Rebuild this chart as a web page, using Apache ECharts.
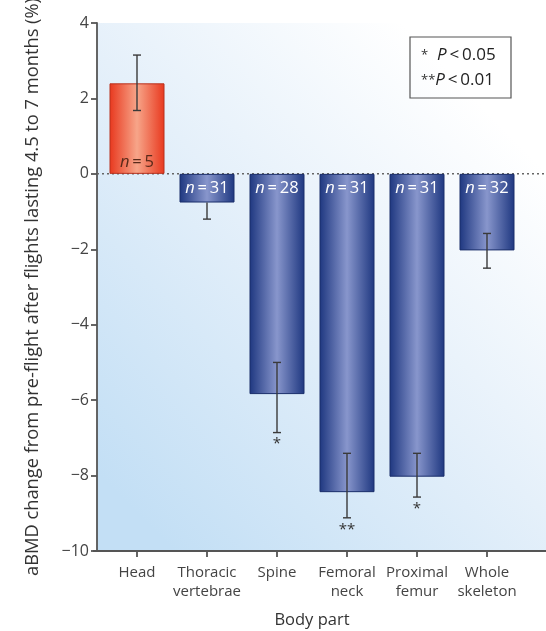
<!DOCTYPE html>
<html><head><meta charset="utf-8">
<script src="https://cdn.jsdelivr.net/npm/echarts@6/dist/echarts.min.js"></script>
<style>html,body{margin:0;padding:0;background:#fff}#c{width:546px;height:631px}</style>
</head><body><div id="c"></div>
<script>
var categories = ['Head', 'Thoracic\nvertebrae', 'Spine', 'Femoral\nneck', 'Proximal\nfemur', 'Whole\nskeleton'];
var values = [2.4, -0.76, -5.84, -8.44, -8.03, -2.03];
var errUpper = [3.15, null, -5.0, -7.41, -7.41, -1.58];
var errLower = [1.68, -1.2, -6.86, -9.12, -8.57, -2.5];
var sampleSizes = [5, 31, 28, 31, 31, 32];
var stars = ['', '', '*', '**', '*', ''];
var yTicks = [-10, -8, -6, -4, -2, 0, 2, 4];

var FONT = '"Open Sans", "Noto Sans", sans-serif';
function blueGrad() {
  return new echarts.graphic.LinearGradient(0, 0, 1, 0, [
    {offset: 0, color: '#1e3780'}, {offset: 0.5, color: '#8896cc'}, {offset: 1, color: '#1e3780'}]);
}
function redGrad() {
  return new echarts.graphic.LinearGradient(0, 0, 1, 0, [
    {offset: 0, color: '#e8381e'}, {offset: 0.5, color: '#f7a589'}, {offset: 1, color: '#e8381e'}]);
}
var barData = values.map(function (v, i) {
  var pos = v >= 0;
  var col = pos ? '#5a2a1a' : '#ffffff';
  return {
    value: v,
    itemStyle: {color: pos ? redGrad() : blueGrad(), borderColor: pos ? '#b8301c' : '#1a2e6a', borderWidth: 1},
    label: {
      show: true, position: pos ? 'insideBottom' : 'insideTop', distance: pos ? 3 : 6,
      color: col, fontSize: 16.5, fontFamily: FONT,
      formatter: '{i|n}\u2009=\u2009' + sampleSizes[i],
      rich: {i: {fontStyle: 'italic', fontSize: 16.5, fontFamily: FONT, color: col}}
    }
  };
});
var errData = categories.map(function (c, i) { return [i, errUpper[i], errLower[i]]; });

var chart = echarts.init(document.getElementById('c'), null, {renderer: 'canvas'});
var option = {
  animation: false,
  backgroundColor: '#ffffff',
  grid: {left: 102, top: 23, width: 420, bottom: 80, containLabel: false, outerBoundsMode: 'none'},
  xAxis: {
    type: 'category', data: categories,
    name: 'Body part', nameLocation: 'middle', nameGap: 61,
    nameTextStyle: {fontSize: 16.5, color: '#333', fontFamily: FONT},
    axisLine: {show: false, onZero: false},
    axisTick: {show: true, alignWithLabel: true, length: 6, lineStyle: {color: '#555', width: 1.8}},
    axisLabel: {fontSize: 15, color: '#444', fontFamily: FONT, lineHeight: 19, margin: 12, interval: 0},
    splitLine: {show: false}
  },
  yAxis: {
    type: 'value', min: -10, max: 4, interval: 2, offset: 5,
    name: 'aBMD change from pre-flight after flights lasting 4.5 to 7 months (%)',
    nameLocation: 'middle', nameGap: 55,
    nameTextStyle: {fontSize: 18.3, color: '#333', fontFamily: FONT},
    axisLine: {show: true, lineStyle: {color: '#555', width: 1.8}},
    axisTick: {show: true, length: 6, lineStyle: {color: '#555', width: 1.8}},
    axisLabel: {fontSize: 16, color: '#444', fontFamily: FONT, margin: 8,
      formatter: function (v) { return yTicks.indexOf(v) >= 0 ? String(v).replace('-', '\u2212') : ''; }},
    splitLine: {show: false}
  },
  series: [
    {type: 'bar', data: barData, barWidth: 55, z: 3},
    {
      type: 'custom', z: 5, data: errData,
      renderItem: function (params, api) {
        var x = api.coord([api.value(0), 0])[0];
        var children = [];
        var hi = api.value(1), lo = api.value(2), val = values[params.dataIndex];
        var noHi = (hi === null || isNaN(hi));
        var top = noHi ? api.coord([0, val])[1] : api.coord([0, hi])[1];
        var bot = api.coord([0, lo])[1];
        var st = {stroke: '#3a3a3a', lineWidth: 1.4};
        children.push({type: 'line', shape: {x1: x, y1: top, x2: x, y2: bot}, style: st});
        if (!noHi) children.push({type: 'line', shape: {x1: x - 4, y1: top, x2: x + 4, y2: top}, style: st});
        children.push({type: 'line', shape: {x1: x - 4, y1: bot, x2: x + 4, y2: bot}, style: st});
        var s = stars[params.dataIndex];
        if (s) children.push({type: 'text', x: x, y: bot + 4,
          style: {text: s, fill: '#333', font: '15px ' + FONT, align: 'center', verticalAlign: 'top'}});
        return {type: 'group', children: children};
      }
    }
  ]
};
chart.setOption(option);

// background panel, baseline and zero line, positioned through the axis scales
var pTop = chart.convertToPixel({gridIndex: 0}, [0, 4]);
var p0 = chart.convertToPixel({gridIndex: 0}, [0, 0]);
var pBot = chart.convertToPixel({gridIndex: 0}, [0, -10]);
var yZero = p0[1], yTop = pTop[1], yBot = pBot[1];
var xLeft = 97, xRight = 546;
var legRich = {s: {fontSize: 13, fill: '#333', fontFamily: FONT}, p: {fontStyle: 'italic', fontSize: 17, fontFamily: FONT, fill: '#222'}};
chart.setOption({
  graphic: [
    {type: 'rect', z: -10, silent: true, shape: {x: xLeft, y: yTop, width: xRight - xLeft, height: yBot - yTop},
      style: {fill: new echarts.graphic.LinearGradient(0, 0.85, 0.85, 0.15, [
        {offset: 0, color: '#c3dff5'}, {offset: 0.55, color: '#e5f0fa'}, {offset: 1, color: '#ffffff'}])}},
    {type: 'line', z: 1, shape: {x1: xLeft, y1: yZero, x2: xRight, y2: yZero},
      style: {stroke: '#666', lineWidth: 1.5, lineDash: [2, 3]}},
    {type: 'line', z: 10, shape: {x1: xLeft - 4, y1: yBot, x2: xRight, y2: yBot},
      style: {stroke: '#555', lineWidth: 1.8}},
    {type: 'rect', z: 10, shape: {x: 410, y: 37, width: 101, height: 61},
      style: {fill: 'rgba(255,255,255,0)', stroke: '#555', lineWidth: 1.2}},
    {type: 'text', z: 11, x: 421, y: 55,
      style: {text: '{s|*}  {p|P}\u2009<\u20090.05', verticalAlign: 'middle', fill: '#222', font: '17px ' + FONT, rich: legRich}},
    {type: 'text', z: 11, x: 421, y: 80,
      style: {text: '{s|**}{p|P}\u2009<\u20090.01', verticalAlign: 'middle', fill: '#222', font: '17px ' + FONT, rich: legRich}}
  ]
});
</script>
</body></html>
